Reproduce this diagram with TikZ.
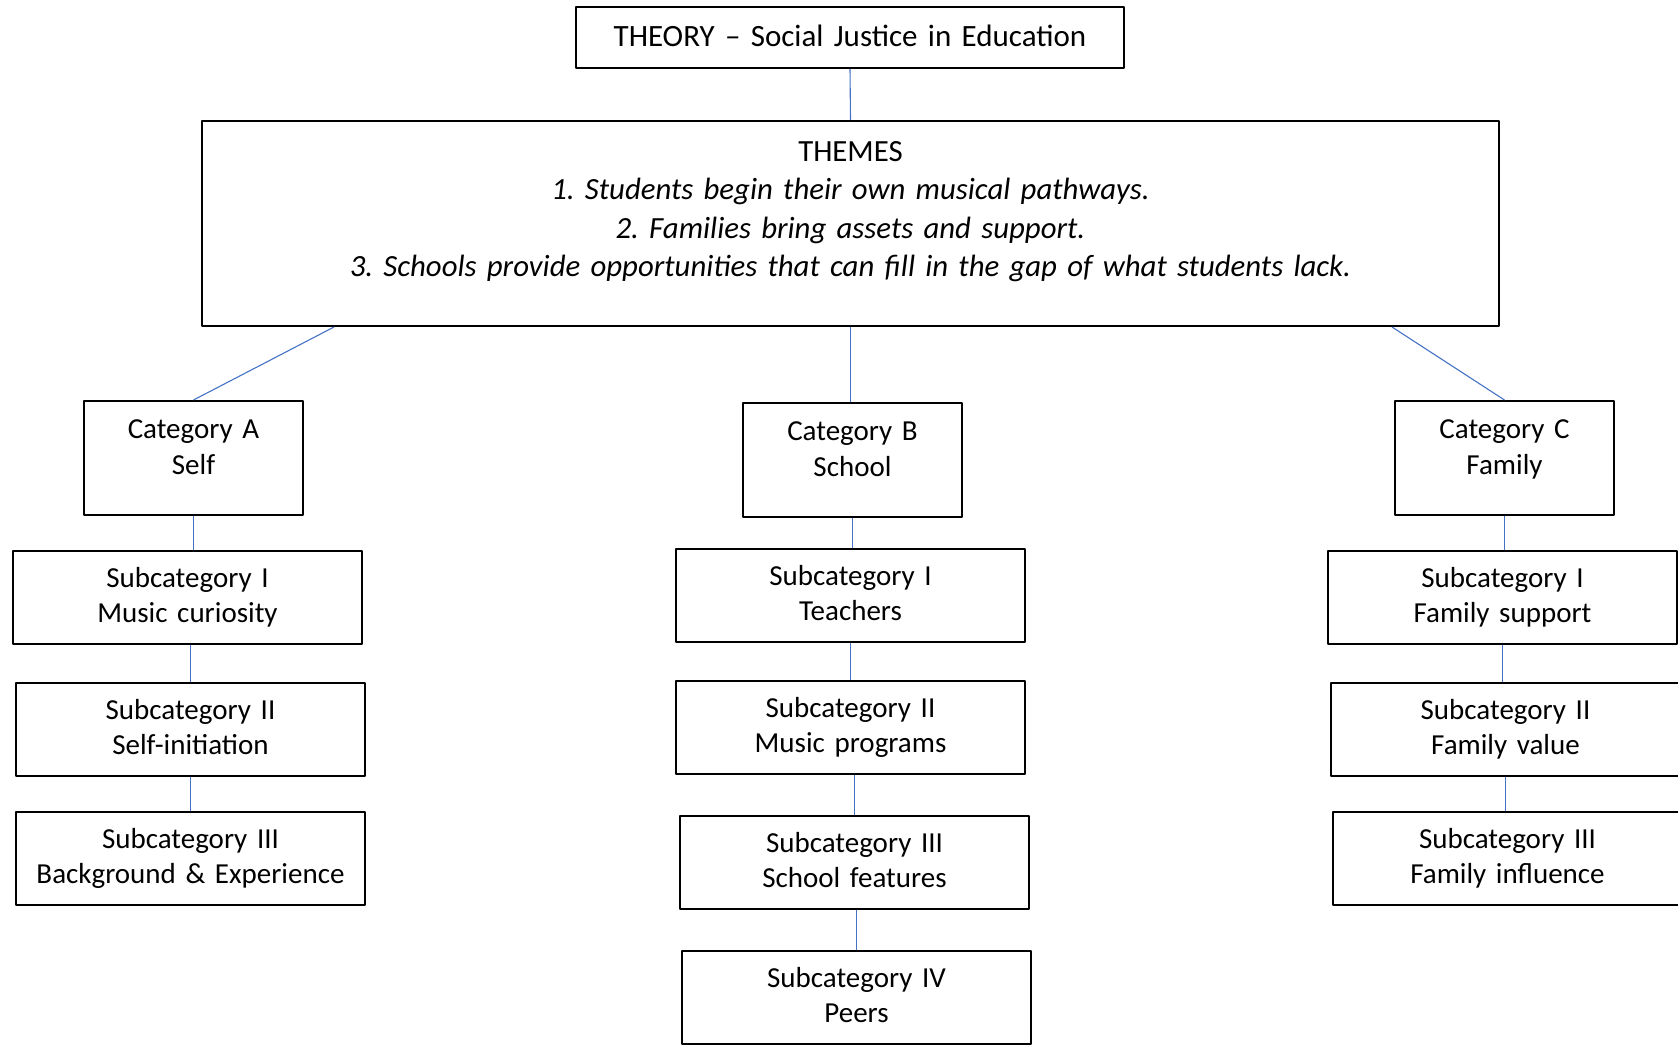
\documentclass[tikz,border=0pt]{standalone}
\usepackage{fontspec}
\setmainfont{Carlito}
\frenchspacing
\definecolor{linkblue}{HTML}{4472C4}
\tikzset{
	box/.style={draw=black, line width=2pt, fill=white, anchor=north west, inner sep=0pt, align=center},
	theorybox/.style={box, text width=548pt, text height=39.5pt, text depth=21.5pt, font=\fontsize{31}{37}\selectfont},
	themebox/.style={box, text width=1297pt, text height=40pt, text depth=165pt, font=\fontsize{30.8}{38.5}\selectfont},
	catbox/.style={box, text width=219pt, text height=37pt, text depth=76.5pt, font=\fontsize{29}{36.5}\selectfont},
	subbox/.style={box, text width=349pt, text height=36pt, text depth=57pt, font=\fontsize{29}{35}\selectfont},
	link/.style={draw=linkblue, line width=1.1pt}
}
\begin{document}
\begin{tikzpicture}[x=1pt, y=-1pt, line join=round]
		\useasboundingbox (0,0) rectangle (1678,1045);
		
		% top of the tree
		\node[theorybox] (theory) at (575,6) {THEORY -- Social Justice in Education};
		\node[themebox] (themes) at (201,120) {THEMES\\
			\itshape 1. Students begin their own musical pathways.\\
			\itshape 2. Families bring assets and support.\\
			\itshape 3. Schools provide opportunities that can fill in the gap of what students lack.};
		
		% categories
		\node[catbox] (catA) at (83,400) {Category A\\Self};
		\node[catbox] (catB) at (742,402) {Category B\\School};
		\node[catbox] (catC) at (1394,400) {Category C\\Family};
		
		% subcategories of A
		\node[subbox] (selfI) at (12,550) {Subcategory I\\Music curiosity};
		\node[subbox] (selfII) at (15,682) {Subcategory II\\Self-initiation};
		\node[subbox] (selfIII) at (15,811) {Subcategory III\\Background \& Experience};
		
		% subcategories of B
		\node[subbox] (schoolI) at (675,548) {Subcategory I\\Teachers};
		\node[subbox] (schoolII) at (675,680) {Subcategory II\\Music programs};
		\node[subbox] (schoolIII) at (679,815) {Subcategory III\\School features};
		\node[subbox] (schoolIV) at (681,950) {Subcategory IV\\Peers};
		
		% subcategories of C
		\node[subbox] (familyI) at (1327,550) {Subcategory I\\Family support};
		\node[subbox] (familyII) at (1330,682) {Subcategory II\\Family value};
		\node[subbox] (familyIII) at (1332,811) {Subcategory III\\Family influence};
		
		% connectors
		\draw[link] (theory.south) -- (themes.north);
		\draw[link] ([xshift=133pt]themes.south west) -- (catA.north);
		\draw[link] (themes.south) -- (themes.south |- catB.north);
		\draw[link] ([xshift=-108pt]themes.south east) -- (catC.north);
		
		\draw[link] (catA.south) -- (catA.south |- selfI.north);
		\draw[link] (selfII.north) -- (selfII.north |- selfI.south);
		\draw[link] (selfIII.north) -- (selfIII.north |- selfII.south);
		
		\draw[link] (catB.south) -- (catB.south |- schoolI.north);
		\draw[link] (schoolII.north) -- (schoolII.north |- schoolI.south);
		\draw[link] (schoolIII.north) -- (schoolIII.north |- schoolII.south);
		\draw[link] (schoolIV.north) -- (schoolIV.north |- schoolIII.south);
		
		\draw[link] (catC.south) -- (catC.south |- familyI.north);
		\draw[link] (familyI.south) -- (familyI.south |- familyII.north);
		\draw[link] (familyII.south) -- (familyII.south |- familyIII.north);
\end{tikzpicture}
\end{document}
